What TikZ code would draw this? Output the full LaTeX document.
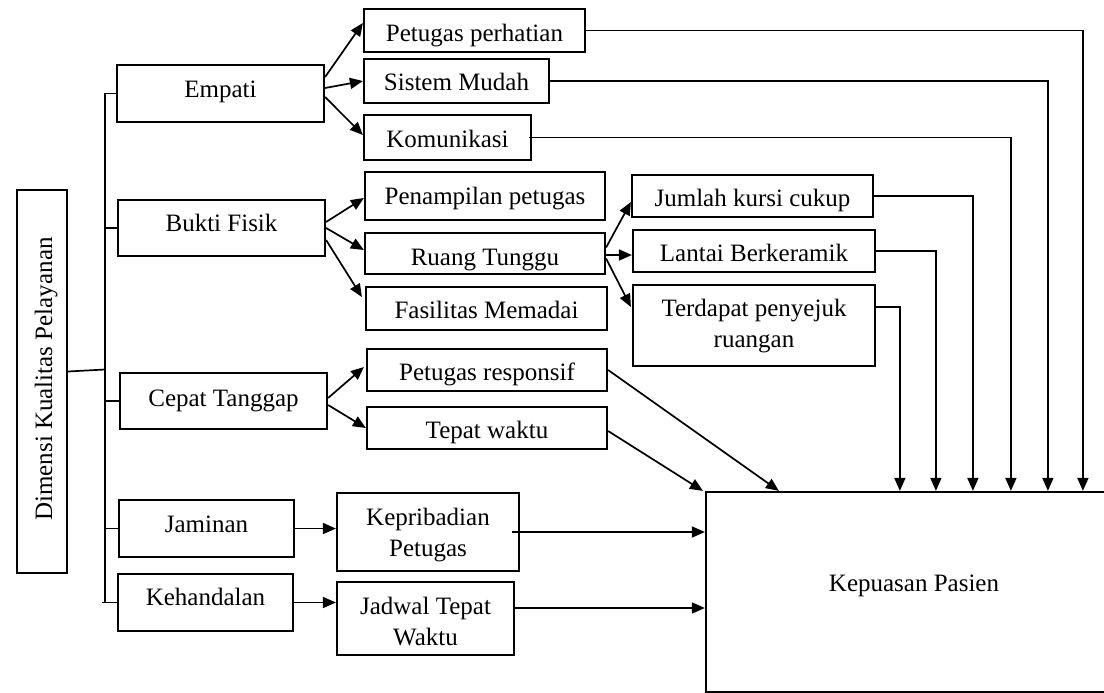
\documentclass[tikz,border=0pt]{standalone}
\usepackage{fontspec}
\setmainfont{Liberation Serif}
\usetikzlibrary{arrows.meta,calc}
\tikzset{
  box/.style={draw=black, line width=2.2pt, inner sep=0pt, fill=none},
  lbl/.style={inner sep=0pt, text=black, font=\fontsize{25}{31}\selectfont, align=center},
  conn/.style={draw=black, line width=1.7pt},
  arr/.style={conn, -{Triangle[length=13pt,width=11pt]}},
}
% \bx{name}{x1}{y1}{x2}{y2}
\newcommand{\bx}[5]{%
  \node[box, minimum width={(#4-#2)*1pt}, minimum height={(#5-#3)*1pt}] (#1) at ({(#2+#4)/2},{(#3+#5)/2}) {};}
% \tx{name}{x}{baseline of last line}{text}
\newcommand{\tx}[4]{%
  \node[lbl, anchor=base] (#1) at (#2,#3) {#4};}
\begin{document}
\begin{tikzpicture}[x=1pt,y=-1pt]
\useasboundingbox (0,0) rectangle (1104,693);
% ---- boxes ----
\bx{dim}{17}{190}{67}{573}
\node[lbl, rotate=90, anchor=base] (dim-t) at (52,379) {Dimensi Kualitas Pelayanan};
\bx{empati}{117}{65}{324}{122}      \tx{empati-t}{220.5}{98}{Empati}
\bx{bukti}{118}{200}{325}{256}      \tx{bukti-t}{221.5}{231}{Bukti Fisik}
\bx{cepat}{120}{373}{327}{429}      \tx{cepat-t}{223.5}{406}{Cepat Tanggap}
\bx{jaminan}{119}{500}{294}{557}    \tx{jaminan-t}{206.5}{532}{Jaminan}
\bx{kehandalan}{118}{574}{293}{631} \tx{kehandalan-t}{205.5}{605}{Kehandalan}
\bx{pp}{364}{9}{585}{52}            \tx{pp-t}{474.5}{42}{Petugas perhatian}
\bx{sm}{364}{59}{549}{103}          \tx{sm-t}{456.5}{91}{Sistem Mudah}
\bx{kom}{364}{115}{531}{160}        \tx{kom-t}{447.5}{147}{Komunikasi}
\bx{pen}{365}{172}{605}{220}        \tx{pen-t}{485}{204}{Penampilan petugas}
\bx{rt}{365}{233}{605}{274}         \tx{rt-t}{485}{265}{Ruang Tunggu}
\bx{fas}{366}{287}{607}{330}        \tx{fas-t}{486.5}{318}{Fasilitas Memadai}
\bx{pr}{367}{349}{607}{391}         \tx{pr-t}{487}{380}{Petugas responsif}
\bx{tw}{367}{407}{607}{449}         \tx{tw-t}{487}{438}{Tepat waktu}
\bx{kep}{337}{493}{519}{571}        \tx{kep-t}{428}{556}{Kepribadian\\Petugas}
\bx{jad}{337}{582}{514}{655}        \tx{jad-t}{425.5}{645}{Jadwal Tepat\\Waktu}
\bx{jk}{632}{175}{873}{217}         \tx{jk-t}{752.5}{206}{Jumlah kursi cukup}
\bx{lb}{633}{230}{875}{272}         \tx{lb-t}{754}{261}{Lantai Berkeramik}
\bx{tp}{633}{285}{875}{366}         \tx{tp-t}{754}{347}{Terdapat penyejuk\\ruangan}
\bx{kp}{706}{492}{1122}{692}        \tx{kp-t}{914}{591}{Kepuasan Pasien}
% ---- spine ----
\coordinate (spine) at (105,0);
\draw[conn] (empati.west -| spine) -- (kehandalan.west -| spine);
\draw[conn] ($(dim.east)+(0,-10)$) -- ($(dim.east -| spine)+(0,-12)$);
\draw[conn] (empati.west) -- (empati.west -| spine);
\draw[conn] (bukti.west) -- (bukti.west -| spine);
\draw[conn] (cepat.west) -- (cepat.west -| spine);
\draw[conn] (jaminan.west) -- (jaminan.west -| spine);
\draw[conn] (kehandalan.west) -- ($(kehandalan.west -| spine)+(-3,0)$);
% ---- fans ----
\draw[arr] ($(empati.east)+(0,-16.5)$) -- ($(pp.west)+(0,-7.5)$);
\draw[arr] ($(empati.east)+(0,-5.5)$) -- (sm.west);
\draw[arr] ($(empati.east)+(0,3.5)$) -- ($(kom.west)+(0,-2.5)$);
\draw[arr] ($(bukti.east)+(0,-6)$) -- ($(pen.west)+(0,2)$);
\draw[arr] (bukti.east) -- ($(rt.west)+(0,-3.5)$);
\draw[arr] ($(bukti.east)+(0,12)$) -- ($(fas.west)+(-3,-11.5)$);
\draw[arr] ($(rt.east)+(0,-6)$) -- ($(jk.west)+(0,6)$);
\draw[arr] ($(rt.east)+(0,1.5)$) -- ($(lb.west)+(0,4)$);
\draw[arr] ($(rt.east)+(0,5)$) -- ($(tp.west)+(-1,-18.5)$);
\draw[arr] ($(cepat.east)+(0,-3)$) -- ($(pr.west)+(-2,-3)$);
\draw[arr] ($(cepat.east)+(0,4)$) -- (tw.west);
\draw[arr] (jaminan.east) -- (jaminan.east -| kep.west);
\draw[arr] (kehandalan.east) -- (kehandalan.east -| jad.west);
% ---- into Kepuasan Pasien ----
\draw[arr] ($(kep.east)+(-8,0)$) -- (kep.east -| kp.west);
\draw[arr] ($(jad.east)+(0,-10.5)$) -- ($(jad.east -| kp.west)+(0,-10.5)$);
\draw[arr] (pr.east) -- ($(kp.north west)+(74,0)$);
\draw[arr] ($(tw.east)+(0,3)$) -- ($(kp.north west)+(-2,0)$);
\draw[arr] (pp.east) -| ($(kp.north west)+(378,0)$);
\draw[arr] (sm.east) -| ($(kp.north west)+(343,0)$);
\draw[arr] ($(kom.east)+(-3,0)$) -| ($(kp.north west)+(306,0)$);
\draw[arr] (jk.east) -| ($(kp.north west)+(268,0)$);
\draw[arr] (lb.east) -| ($(kp.north west)+(231,0)$);
\draw[arr] ($(tp.east)+(0,-18.5)$) -| ($(kp.north west)+(195,0)$);
\end{tikzpicture}
\end{document}
